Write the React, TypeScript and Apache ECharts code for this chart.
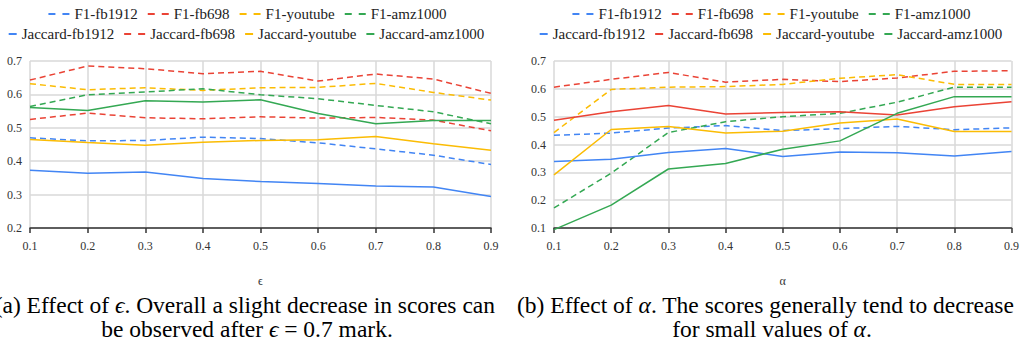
import React, { useEffect, useRef } from "react";
import * as echarts from "echarts";

const xCategories = ["0.1", "0.2", "0.3", "0.4", "0.5", "0.6", "0.7", "0.8", "0.9"];
const seriesNames = [
  "F1-fb1912",
  "F1-fb698",
  "F1-youtube",
  "F1-amz1000",
  "Jaccard-fb1912",
  "Jaccard-fb698",
  "Jaccard-youtube",
  "Jaccard-amz1000",
];
const palette = ["#4285F4", "#EA4335", "#FBBC04", "#34A853"];

// (a) effect of epsilon
const epsF1Fb1912 = [0.470, 0.461, 0.462, 0.472, 0.468, 0.455, 0.437, 0.418, 0.390];
const epsF1Fb698 = [0.643, 0.685, 0.677, 0.662, 0.669, 0.640, 0.661, 0.646, 0.603];
const epsF1Youtube = [0.632, 0.614, 0.620, 0.612, 0.620, 0.621, 0.633, 0.606, 0.583];
const epsF1Amz1000 = [0.564, 0.599, 0.607, 0.617, 0.599, 0.587, 0.567, 0.548, 0.512];
const epsJacFb1912 = [0.373, 0.364, 0.368, 0.348, 0.339, 0.333, 0.326, 0.323, 0.294];
const epsJacFb698 = [0.525, 0.544, 0.530, 0.527, 0.533, 0.529, 0.531, 0.523, 0.491];
const epsJacYoutube = [0.465, 0.456, 0.448, 0.457, 0.462, 0.464, 0.474, 0.452, 0.433];
const epsJacAmz1000 = [0.561, 0.552, 0.581, 0.577, 0.584, 0.543, 0.512, 0.522, 0.522];

// (b) effect of alpha
const alpF1Fb1912 = [0.433, 0.441, 0.459, 0.468, 0.450, 0.457, 0.465, 0.453, 0.460];
const alpF1Fb698 = [0.606, 0.634, 0.659, 0.624, 0.634, 0.626, 0.639, 0.663, 0.665];
const alpF1Youtube = [0.443, 0.598, 0.606, 0.608, 0.616, 0.638, 0.651, 0.616, 0.616];
const alpF1Amz1000 = [0.172, 0.297, 0.443, 0.482, 0.500, 0.512, 0.552, 0.606, 0.606];
const alpJacFb1912 = [0.339, 0.347, 0.371, 0.386, 0.357, 0.373, 0.370, 0.359, 0.375];
const alpJacFb698 = [0.487, 0.518, 0.540, 0.510, 0.515, 0.518, 0.506, 0.536, 0.554];
const alpJacYoutube = [0.291, 0.454, 0.465, 0.441, 0.448, 0.477, 0.492, 0.447, 0.447];
const alpJacAmz1000 = [0.094, 0.182, 0.312, 0.332, 0.383, 0.413, 0.512, 0.572, 0.572];

// which series are dashed in each panel
const epsDashed = [true, true, true, true, false, true, false, false];
const alpDashed = [true, true, true, true, false, false, false, false];

const epsData = [epsF1Fb1912, epsF1Fb698, epsF1Youtube, epsF1Amz1000, epsJacFb1912, epsJacFb698, epsJacYoutube, epsJacAmz1000];
const alpData = [alpF1Fb1912, alpF1Fb698, alpF1Youtube, alpF1Amz1000, alpJacFb1912, alpJacFb698, alpJacYoutube, alpJacAmz1000];

const captionA1 = "(a) Effect of {i|ϵ}. Overall a slight decrease in scores can";
const captionA2 = "be observed after {i|ϵ} = 0.7 mark.";
const captionB1 = "(b) Effect of {i|α}. The scores generally tend to decrease";
const captionB2 = "for small values of {i|α}.";

const SERIF = "Liberation Serif, Times New Roman, DejaVu Serif, serif";

export default function App() {
  const ref = useRef<HTMLDivElement>(null);

  useEffect(() => {
    if (!ref.current) return;
    const chart = echarts.init(ref.current, undefined, { renderer: "svg" });

    const canvas = document.createElement("canvas");
    const ctx = canvas.getContext("2d")!;
    const legendFont = 15;
    ctx.font = `${legendFont}px ${SERIF}`;
    const measure = (t: string) => ctx.measureText(t).width;

    const graphics: any[] = [];
    const buildLegendRow = (idx: number[], dashed: boolean[], cx: number, cy: number) => {
      const iconW = (d: boolean) => (d ? 21 : 8);
      let total = 0;
      idx.forEach((k, j) => {
        total += iconW(dashed[k]) + 5 + measure(seriesNames[k]);
        if (j < idx.length - 1) total += 10;
      });
      let x = cx - total / 2;
      idx.forEach((k) => {
        const w = iconW(dashed[k]);
        const color = palette[k % 4];
        graphics.push({
          type: "line",
          silent: true,
          shape: { x1: x, y1: cy, x2: x + w, y2: cy },
          style: { stroke: color, lineWidth: 2, lineDash: dashed[k] ? [7, 7] : null },
        });
        x += w + 5;
        graphics.push({
          type: "text",
          silent: true,
          x,
          y: cy,
          style: {
            text: seriesNames[k],
            font: `${legendFont}px ${SERIF}`,
            fill: "#222",
            align: "left",
            verticalAlign: "middle",
          },
        });
        x += measure(seriesNames[k]) + 10;
      });
    };
    buildLegendRow([0, 1, 2, 3], epsDashed, 247.5, 14);
    buildLegendRow([4, 5, 6, 7], epsDashed, 246.5, 34);
    buildLegendRow([0, 1, 2, 3], alpDashed, 771.5, 14);
    buildLegendRow([4, 5, 6, 7], alpDashed, 771, 34);

    const capSize = 23.5;
    const capText = (text: string, x: number, y: number, align: string) => ({
      type: "text",
      silent: true,
      x,
      y,
      style: {
        text,
        font: `${capSize}px ${SERIF}`,
        fill: "#000",
        align,
        verticalAlign: "middle",
        rich: { i: { font: `italic ${capSize}px ${SERIF}`, fill: "#000" } },
      },
    });
    graphics.push(capText(captionA1, 495, 305, "right"));
    graphics.push(capText(captionA2, 247, 329, "center"));
    graphics.push(capText(captionB1, 517, 305, "left"));
    graphics.push(capText(captionB2, 772, 329, "center"));

    const gray = "#d9d9d9";
    const dark = "#333";
    const xAxisBase = (gridIndex: number, name: string) => ({
      type: "category",
      gridIndex,
      data: xCategories,
      boundaryGap: false,
      name,
      nameLocation: "middle",
      nameGap: 47,
      nameTextStyle: { fontFamily: SERIF, fontSize: 12, color: dark },
      axisLine: { show: true, onZero: false, lineStyle: { color: dark, width: 1.5 } },
      axisTick: { show: true, interval: 0, length: 5, lineStyle: { color: dark, width: 1.5 } },
      axisLabel: { interval: 0, margin: 12, fontFamily: SERIF, fontSize: 12, color: dark },
      splitLine: { show: true, interval: 0, lineStyle: { color: gray, width: 1.5 } },
    });
    const yAxisBase = (gridIndex: number, min: number) => ({
      type: "value",
      gridIndex,
      min,
      max: 0.7,
      interval: 0.1,
      axisLine: { show: false },
      axisTick: { show: false },
      axisLabel: {
        margin: 8,
        fontFamily: SERIF,
        fontSize: 12,
        color: dark,
        formatter: (v: number) => v.toFixed(1),
      },
      splitLine: { show: true, lineStyle: { color: gray, width: 1.5 } },
    });

    const makeSeries = (data: number[][], dashed: boolean[], axisIndex: number) =>
      data.map((d, k) => ({
        type: "line",
        name: seriesNames[k],
        xAxisIndex: axisIndex,
        yAxisIndex: axisIndex,
        data: d,
        symbol: "none",
        clip: false,
        silent: true,
        lineStyle: { color: palette[k % 4], width: 1.5, type: dashed[k] ? [6, 4] : "solid" },
        itemStyle: { color: palette[k % 4] },
      }));

    chart.setOption({
      animation: false,
      backgroundColor: "#fff",
      textStyle: { fontFamily: SERIF },
      grid: [
        { left: 30, top: 61, width: 461, height: 167 },
        { left: 554, top: 61, width: 460, height: 167 },
      ],
      xAxis: [xAxisBase(0, "ϵ"), xAxisBase(1, "α")],
      yAxis: [yAxisBase(0, 0.2), yAxisBase(1, 0.1)],
      series: [...makeSeries(epsData, epsDashed, 0), ...makeSeries(alpData, alpDashed, 1)],
      graphic: graphics,
    });

    return () => chart.dispose();
  }, []);

  return (
    <div
      ref={ref}
      style={{ position: "absolute", left: 0, top: 0, width: 1022, height: 354, background: "#fff" }}
    />
  );
}
